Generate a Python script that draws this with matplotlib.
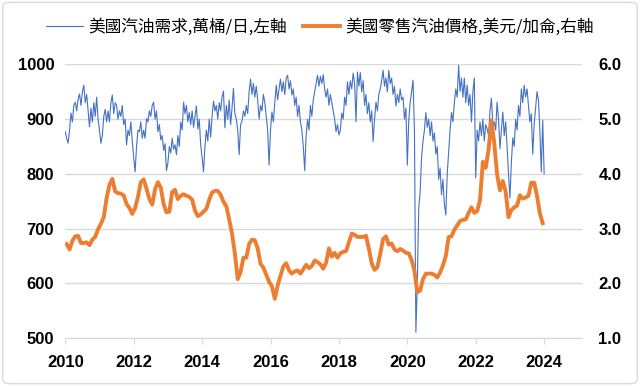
import numpy as np
import matplotlib.pyplot as plt
from matplotlib.patches import FancyBboxPatch

plt.rcParams['font.family'] = ['Liberation Sans', 'Noto Sans CJK TC']

# US gasoline demand, 10k barrels/day, two readings per month
demand_2010 = [877, 865, 856, 880, 911, 895, 925, 931, 915, 936, 946, 925,
               950, 962, 930, 945, 915, 886, 920, 895, 930, 905, 940, 900]
demand_2011 = [880, 856, 870, 905, 918, 895, 915, 895, 930, 944, 910, 930,
               925, 900, 915, 905, 925, 890, 900, 853, 880, 870, 895, 860]
demand_2012 = [830, 804, 850, 880, 877, 895, 865, 880, 865, 901, 895, 915,
               905, 925, 931, 900, 915, 877, 890, 862, 870, 843, 855, 806]
demand_2013 = [820, 850, 838, 865, 845, 853, 835, 870, 850, 895, 880, 931,
               910, 925, 895, 912, 890, 915, 885, 905, 924, 882, 900, 853]
demand_2014 = [830, 804, 850, 880, 860, 900, 867, 905, 933, 915, 925, 900,
               930, 915, 940, 951, 884, 925, 900, 935, 890, 920, 956, 910]
demand_2015 = [900, 880, 835, 890, 896, 915, 905, 925, 910, 950, 973, 945,
               965, 940, 960, 935, 900, 925, 915, 945, 930, 905, 880, 816]
demand_2016 = [880, 913, 895, 930, 962, 935, 955, 973, 950, 968, 945, 975,
               980, 955, 970, 944, 955, 925, 940, 905, 925, 895, 880, 850]
demand_2017 = [806, 870, 900, 880, 925, 905, 935, 950, 964, 980, 960, 978,
               965, 981, 955, 940, 955, 925, 945, 930, 915, 900, 877, 890]
demand_2018 = [871, 880, 911, 900, 940, 925, 968, 945, 970, 955, 984, 965,
               895, 986, 960, 985, 950, 970, 925, 945, 910, 930, 895, 915]
demand_2019 = [859, 900, 931, 915, 945, 955, 970, 989, 960, 975, 950, 989,
               965, 975, 945, 960, 924, 945, 930, 955, 935, 940, 900, 920]
demand_2020 = [816, 897, 930, 950, 971, 880, 511, 600, 738, 767, 830, 860,
               880, 912, 885, 900, 870, 895, 860, 875, 836, 850, 790, 811]
demand_2021 = [762, 790, 745, 725, 800, 840, 880, 912, 895, 930, 955, 940,
               998, 950, 975, 940, 975, 930, 962, 925, 945, 895, 950, 975]
demand_2022 = [793, 880, 860, 895, 870, 900, 860, 890, 882, 870, 915, 938,
               890, 895, 880, 931, 900, 846, 880, 913, 870, 895, 850, 800]
demand_2023 = [756, 820, 866, 850, 900, 880, 925, 905, 955, 930, 962, 940,
               955, 925, 895, 910, 836, 890, 920, 950, 935, 880, 804, 898, 800]

# US retail gasoline price, USD/gallon, monthly
price_2010 = [2.72, 2.62, 2.78, 2.86, 2.87, 2.74, 2.74, 2.75, 2.70, 2.80, 2.85, 2.99]
price_2011 = [3.09, 3.21, 3.56, 3.80, 3.91, 3.68, 3.65, 3.64, 3.61, 3.45, 3.38, 3.27]
price_2012 = [3.38, 3.58, 3.85, 3.90, 3.73, 3.54, 3.44, 3.72, 3.85, 3.75, 3.45, 3.30]
price_2013 = [3.31, 3.67, 3.71, 3.54, 3.60, 3.63, 3.60, 3.58, 3.53, 3.33, 3.23, 3.26]
price_2014 = [3.31, 3.36, 3.53, 3.66, 3.69, 3.69, 3.62, 3.49, 3.41, 3.17, 2.91, 2.55]
price_2015 = [2.08, 2.21, 2.47, 2.47, 2.72, 2.80, 2.79, 2.64, 2.36, 2.29, 2.16, 2.03]
price_2016 = [1.95, 1.72, 1.96, 2.14, 2.31, 2.37, 2.24, 2.18, 2.22, 2.24, 2.18, 2.26]
price_2017 = [2.34, 2.28, 2.32, 2.42, 2.39, 2.35, 2.27, 2.38, 2.64, 2.49, 2.56, 2.47]
price_2018 = [2.55, 2.58, 2.59, 2.75, 2.91, 2.89, 2.85, 2.85, 2.85, 2.87, 2.64, 2.37]
price_2019 = [2.25, 2.30, 2.54, 2.81, 2.86, 2.71, 2.73, 2.62, 2.59, 2.63, 2.60, 2.56]
price_2020 = [2.55, 2.43, 2.23, 1.84, 1.87, 2.08, 2.18, 2.18, 2.18, 2.16, 2.11, 2.20]
price_2021 = [2.33, 2.50, 2.85, 2.86, 2.98, 3.06, 3.14, 3.16, 3.17, 3.29, 3.39, 3.29]
price_2022 = [3.32, 3.52, 4.22, 4.11, 4.44, 4.98, 4.56, 3.99, 3.70, 3.87, 3.68, 3.21]
price_2023 = [3.34, 3.39, 3.42, 3.61, 3.55, 3.57, 3.60, 3.84, 3.84, 3.60, 3.28, 3.10]

demand = (demand_2010 + demand_2011 + demand_2012 + demand_2013 + demand_2014
          + demand_2015 + demand_2016 + demand_2017 + demand_2018 + demand_2019
          + demand_2020 + demand_2021 + demand_2022 + demand_2023)
price = (price_2010 + price_2011 + price_2012 + price_2013 + price_2014
         + price_2015 + price_2016 + price_2017 + price_2018 + price_2019
         + price_2020 + price_2021 + price_2022 + price_2023)

x_ticks = [2010, 2012, 2014, 2016, 2018, 2020, 2022, 2024]
left_ticks = [500, 600, 700, 800, 900, 1000]
right_ticks = [1.0, 2.0, 3.0, 4.0, 5.0, 6.0]
labels = ['美國汽油需求,萬桶/日,左軸', '美國零售汽油價格,美元/加侖,右軸']

fig = plt.figure(figsize=(6.4, 3.86), dpi=100)
ax = fig.add_axes([0.102, 0.1236, 0.807, 0.7098])
ax2 = ax.twinx()

t_demand = 2010 + np.arange(len(demand)) / 24
t_price = 2010 + (np.arange(len(price)) + 0.5) / 12

l1, = ax.plot(t_demand, demand, color='#4472C4', lw=0.8)
l2, = ax2.plot(t_price, price, color='#ED7D31', lw=2.8)

ax.set_xlim(2010, 2025.1)
ax.set_ylim(500, 1000)
ax2.set_ylim(1, 6)
ax.set_xticks(x_ticks)
ax.set_yticks(left_ticks)
ax2.set_yticks(right_ticks)
ax2.set_yticklabels([f'{v:.1f}' for v in right_ticks])

ax.grid(axis='y', color='#d9d9d9', lw=1)
ax.set_axisbelow(True)
for a in (ax, ax2):
    for s in ('top', 'left', 'right'):
        a.spines[s].set_visible(False)
    a.spines['bottom'].set_color('#d9d9d9')
ax2.spines['bottom'].set_visible(False)

ax.tick_params(axis='x', length=4, color='#d9d9d9', pad=8)
ax.tick_params(axis='y', length=0, pad=8)
ax2.tick_params(axis='y', length=0, pad=12)
for lab in ax.get_xticklabels() + ax.get_yticklabels() + ax2.get_yticklabels():
    lab.set_fontweight('bold')
    lab.set_fontsize(12)

fig.legend([l1, l2], labels, loc='upper center', bbox_to_anchor=(0.5, 0.99),
           ncol=2, frameon=False, handlelength=2.2, handletextpad=0.3,
           columnspacing=1.0,
           prop={'family': ['Noto Sans CJK TC', 'DejaVu Sans'], 'size': 12})

border = FancyBboxPatch((0.004, 0.006), 0.992, 0.988,
                        boxstyle='round,pad=0,rounding_size=0.012',
                        transform=fig.transFigure, fill=False,
                        ec='#d9d9d9', lw=1)
fig.patches.append(border)

fig.savefig('out.png', dpi=100)
